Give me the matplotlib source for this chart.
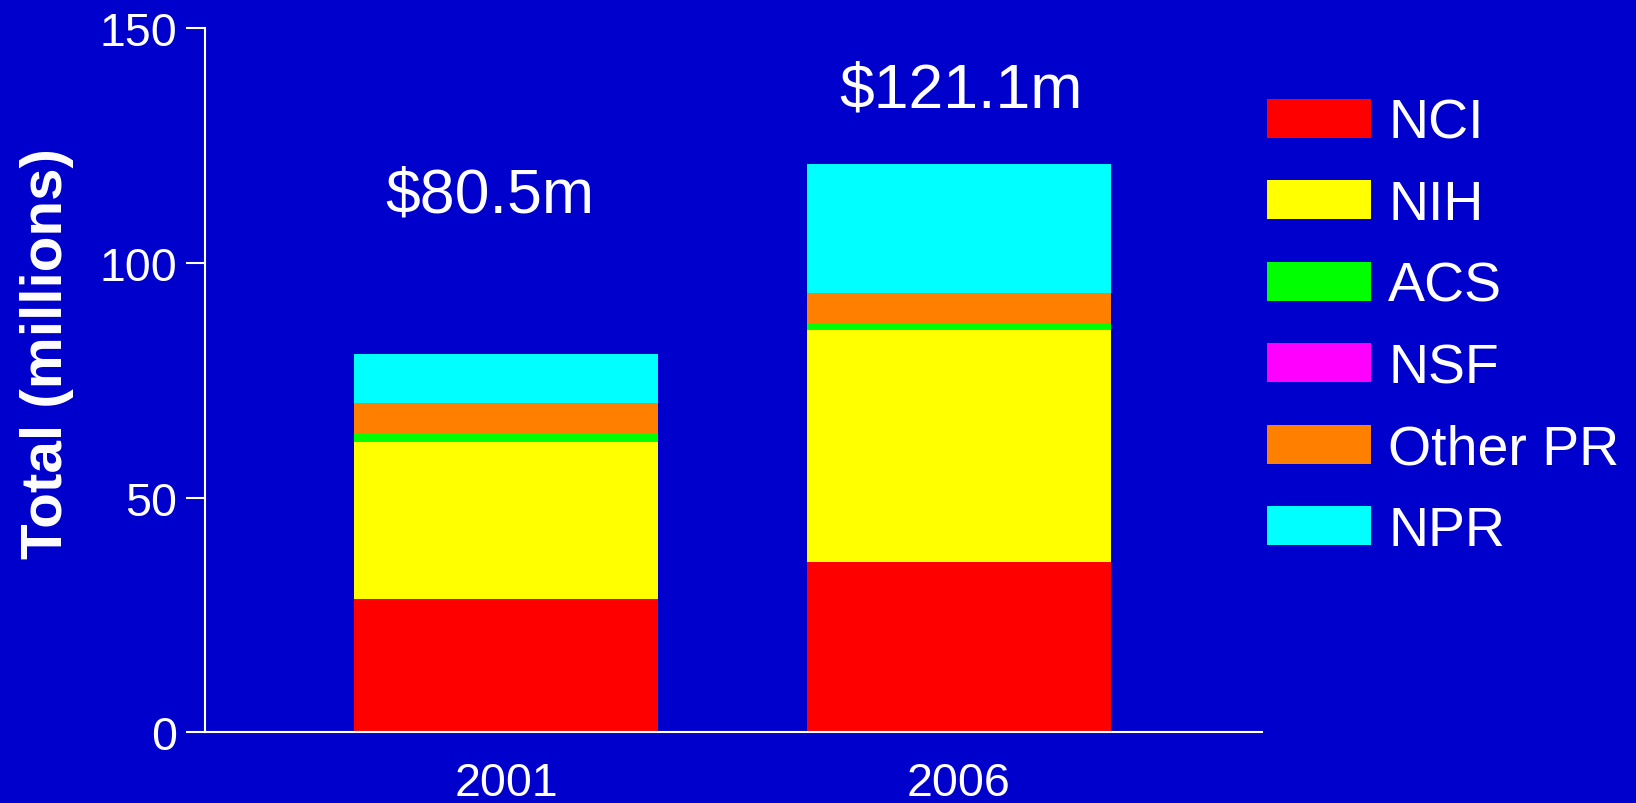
import numpy as np
import matplotlib
matplotlib.use("Agg")
import matplotlib.pyplot as plt

plt.rcParams["font.family"] = ["Liberation Sans", "DejaVu Sans"]

years = ["2001", "2006"]
sources = ["NCI", "NIH", "ACS", "NSF", "Other PR", "NPR"]
nci = [28.4, 36.2]
nih = [33.5, 49.5]
acs = [1.9, 1.5]
nsf = [0.0, 0.0]
other_pr = [6.4, 6.4]
npr = [10.3, 27.5]
totals = [80.5, 121.1]
total_labels = ["$80.5m", "$121.1m"]

colors = ["#FF0000", "#FFFF00", "#00FF00", "#FF00FF", "#FF8000", "#00FFFF"]
bg = "#0000CC"

fig = plt.figure(figsize=(16.36, 8.04), dpi=100, facecolor=bg)
ax = fig.add_axes([0.1253, 0.0879, 0.6461, 0.8757], facecolor=bg)

x = np.arange(len(years))
bottom = np.zeros(len(years))
for name, vals, c in zip(sources, [nci, nih, acs, nsf, other_pr, npr], colors):
    ax.bar(x, vals, width=0.672, bottom=bottom, color=c, label=name, linewidth=0)
    bottom += np.array(vals)

# totals above each stack
label_dx = [-0.036, 0.006]
label_y = [110.9, 133.4]
for xi, dx, y, t in zip(x, label_dx, label_y, total_labels):
    ax.text(xi + dx, y, t, ha="center", va="baseline", color="white", fontsize=45)

ax.set_xlim(-0.665, 1.67)
ax.set_ylim(0, 150)
ax.set_yticks([0, 50, 100, 150])
ax.set_xticks(x)
ax.set_xticklabels(years)

for side in ["top", "right"]:
    ax.spines[side].set_visible(False)
for side in ["left", "bottom"]:
    ax.spines[side].set_color("white")
    ax.spines[side].set_linewidth(1.5)

ax.tick_params(axis="y", colors="white", labelsize=33.5, length=14, width=1.5, pad=6)
ax.tick_params(axis="x", colors="white", labelsize=33.5, length=0, pad=21)

fig.text(0.029, 0.56, "Total (millions)", rotation=90, ha="center", va="center",
         color="white", fontsize=42, fontweight="bold")

leg = fig.legend(loc="upper left", bbox_to_anchor=(0.7745, 0.877), frameon=False,
                 fontsize=40, labelcolor="white", handlelength=1.87, handleheight=0.70,
                 handletextpad=0.31, labelspacing=0.53, borderaxespad=0, borderpad=0)

fig.savefig("out.png", dpi=100, facecolor=bg)
